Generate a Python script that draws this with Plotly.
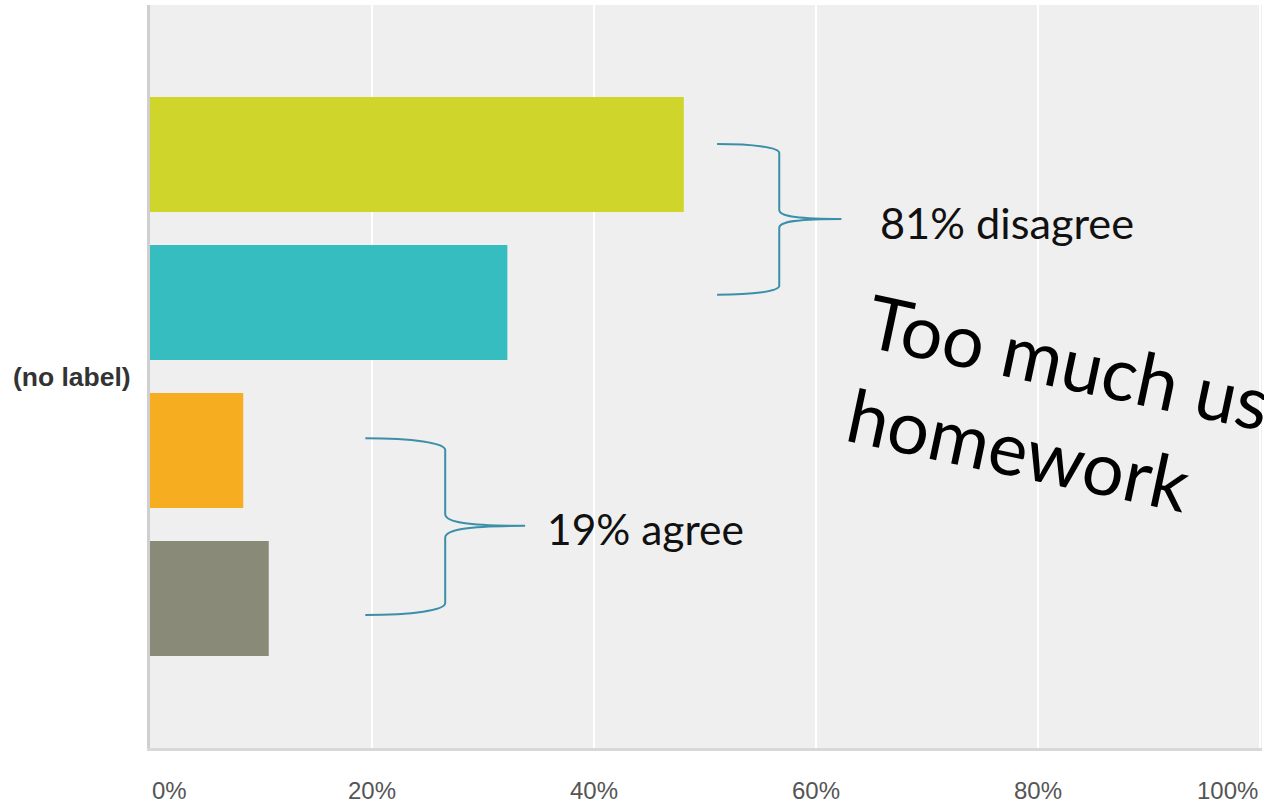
import plotly.graph_objects as go

# Survey responses for one statement, split into four answer levels
category = "(no label)"
answers = ["Strongly disagree", "Disagree", "Agree", "Strongly agree"]
shares = [48.1, 32.2, 8.4, 10.7]
bar_colors = ["#cfd52a", "#35bdc0", "#f6ae20", "#8a8a78"]

tick_values = [0, 20, 40, 60, 80, 100]
tick_labels = ["0%", "20%", "40%", "60%", "80%", "100%"]

group_labels = ["81% disagree", "19% agree"]
headline = "Too much useless<br>homework"

fig = go.Figure()
for name, val, col in zip(answers, shares, bar_colors):
    fig.add_trace(go.Bar(
        x=[val], y=[category], name=name, orientation="h",
        marker=dict(color=col, line=dict(width=0)),
        hoverinfo="x+name",
    ))

fig.update_layout(
    width=1264, height=804,
    margin=dict(l=150, r=2, t=5, b=56),
    paper_bgcolor="white",
    plot_bgcolor="#efefef",
    barmode="group",
    bargap=0.203,
    bargroupgap=0.223,
    showlegend=False,
    font=dict(family="Liberation Sans, Arial, sans-serif"),
)

fig.update_xaxes(
    range=[0, 100.2],
    tickvals=tick_values,
    showticklabels=False,
    showgrid=True, gridcolor="white", gridwidth=2,
    zeroline=False,
    showline=True, linecolor="#d8d8d8", linewidth=3,
    fixedrange=True,
)
fig.update_yaxes(
    autorange="reversed",
    showgrid=False,
    showline=True, linecolor="#cfcfcf", linewidth=3,
    tickfont=dict(family="Liberation Sans, Arial, sans-serif", size=26.5, color="#333333"),
    ticklabelstandoff=11,
    ticks="",
    fixedrange=True,
)
# bold category label
fig.update_yaxes(tickvals=[category], ticktext=["<b>" + category + "</b>"])

# x tick labels kept inside the figure at both ends
for i, (v, t) in enumerate(zip(tick_values, tick_labels)):
    anchor = "left" if i == 0 else ("right" if i == len(tick_values) - 1 else "center")
    fig.add_annotation(
        x=v, xref="x", y=-0.057, yref="paper",
        text=t, showarrow=False, xanchor=anchor, yanchor="middle",
        font=dict(family="Liberation Sans, Arial, sans-serif", size=24, color="#555555"),
    )


def brace_path(x_left, x_spine, x_tip, y_top, y_mid, y_bot, bend_x, bend_y):
    """Right-facing curly brace; x in data units, y in paper units."""
    return (
        f"M {x_left},{y_top} "
        f"C {x_left + (x_spine - x_left) * 0.6},{y_top} {x_spine},{y_top - bend_y * 0.4} {x_spine},{y_top - bend_y} "
        f"L {x_spine},{y_mid + bend_y} "
        f"C {x_spine},{y_mid + bend_y * 0.3} {x_spine + bend_x},{y_mid} {x_tip},{y_mid} "
        f"C {x_spine + bend_x},{y_mid} {x_spine},{y_mid - bend_y * 0.3} {x_spine},{y_mid - bend_y} "
        f"L {x_spine},{y_bot + bend_y} "
        f"C {x_spine},{y_bot + bend_y * 0.4} {x_left + (x_spine - x_left) * 0.6},{y_bot} {x_left},{y_bot}"
    )


brace_color = "#3b8fa8"
# upper brace: disagree group
fig.add_shape(type="path", xref="x", yref="paper",
              path=brace_path(51.1, 56.7, 62.3, 0.813, 0.712, 0.610, 1.6, 0.012),
              line=dict(color=brace_color, width=2))
# lower brace: agree group
fig.add_shape(type="path", xref="x", yref="paper",
              path=brace_path(19.4, 26.6, 33.8, 0.417, 0.299, 0.179, 2.0, 0.016),
              line=dict(color=brace_color, width=2))

label_font = "Lato, 'Open Sans', sans-serif"
fig.add_annotation(x=65.6, xref="x", y=0.708, yref="paper",
                   text=group_labels[0], showarrow=False,
                   xanchor="left", yanchor="middle",
                   font=dict(family=label_font, size=43.3, color="#111111"))
fig.add_annotation(x=35.6, xref="x", y=0.296, yref="paper",
                   text=group_labels[1], showarrow=False,
                   xanchor="left", yanchor="middle",
                   font=dict(family=label_font, size=42.5, color="#111111"))

fig.add_annotation(x=0.888, xref="paper", y=0.436, yref="paper",
                   text=headline, showarrow=False, align="left",
                   xanchor="center", yanchor="middle", textangle=12,
                   font=dict(family=label_font, size=74, color="#000000"))

fig.write_html("out.html")
